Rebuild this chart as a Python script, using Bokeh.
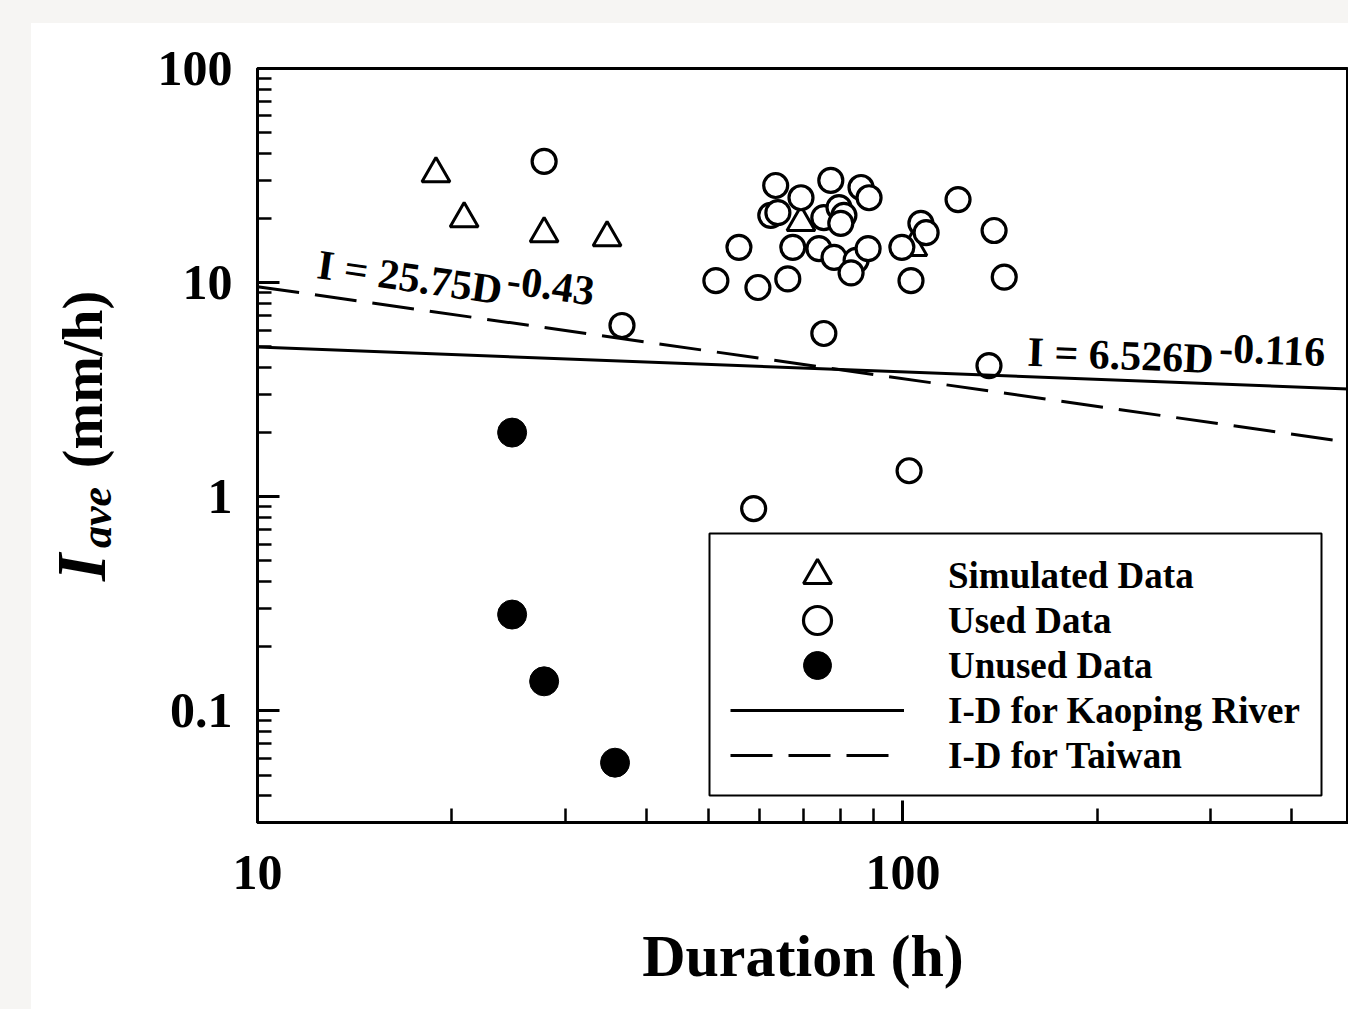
import math
from bokeh.plotting import figure
from bokeh.layouts import row
from bokeh.models import (Range1d, FixedTicker, Legend, LegendItem, BoxAnnotation,
                          GlobalInlineStyleSheet)
from bokeh.core.properties import value
from bokeh.embed import file_html
from bokeh.resources import INLINE

# ---------------- data ----------------
sim_duration = [18.9, 20.9, 27.8, 34.8, 69.5, 103.6]
sim_intensity = [32.3, 19.9, 16.9, 16.2, 19.1, 14.6]

used_duration = [27.8, 36.7, 51.3, 55.7, 59.6, 58.7, 63.5, 62.4, 64.0, 66.3,
                 69.5, 67.5, 77.3, 75.4, 74.1, 75.4, 79.6, 81.0, 80.1, 78.2,
                 84.6, 88.3, 83.1, 86.1, 88.6, 99.6, 106.6, 108.6, 121.7, 138.4,
                 102.9, 143.5, 135.9, 102.2]
used_intensity = [36.8, 6.30, 10.2, 14.6, 9.48, 0.879, 28.4, 20.6, 21.2, 10.4,
                  24.9, 14.6, 30.0, 20.1, 14.4, 5.78, 22.4, 20.6, 18.9, 13.1,
                  12.7, 14.4, 11.1, 27.8, 24.9, 14.6, 18.9, 17.1, 24.4, 17.5,
                  10.2, 10.6, 4.09, 1.32]

unused_duration = [24.8, 24.8, 27.8, 35.8]
unused_intensity = [1.99, 0.281, 0.137, 0.0571]

# fitted I-D relations  I = a * D^b
kaoping_coef, kaoping_exp = 6.526, -0.116
taiwan_coef, taiwan_exp = 25.75, -0.43
fit_duration = [10, 490]

x_major = [10, 100]
x_minor = [20, 30, 40, 50, 60, 70, 80, 90, 200, 300, 400]
x_tick_labels = ["10", "100"]
y_major = [0.1, 1, 10, 100]
y_minor = [0.04, 0.05, 0.06, 0.07, 0.08, 0.09,
           0.2, 0.3, 0.4, 0.5, 0.6, 0.7, 0.8, 0.9,
           2, 3, 4, 5, 6, 7, 8, 9,
           20, 30, 40, 50, 60, 70, 80, 90]
y_tick_labels = ["0.1", "1", "10", "100"]

legend_labels = ["Simulated Data", "Used Data", "Unused Data",
                 "I-D for Kaoping River", "I-D for Taiwan"]

# ---------------- layout constants ----------------
X0, X1 = 10, 490
Y0, Y1 = 0.03, 100
FW, FH = 1091, 754
TOP, BOTTOM = 45, 187
YLAB_W = 120
FONT = "Liberation Serif"

# ---------------- main figure ----------------
p = figure(x_axis_type="log", y_axis_type="log",
           x_range=Range1d(X0, X1), y_range=Range1d(Y0, Y1),
           frame_width=FW, frame_height=FH,
           min_border_left=106, min_border_right=0,
           min_border_top=TOP, min_border_bottom=BOTTOM,
           output_backend="svg", toolbar_location=None,
           background_fill_color="white", border_fill_color="white")

p.grid.visible = False
p.outline_line_color = "black"
p.outline_line_width = 3
p.outline_line_alpha = 1

for ax in (p.xaxis[0], p.yaxis[0]):
    ax.axis_line_width = 3
    ax.axis_line_color = "black"
    ax.major_tick_in = 22
    ax.major_tick_out = 0
    ax.minor_tick_in = 14
    ax.minor_tick_out = 0
    ax.major_tick_line_width = 3
    ax.minor_tick_line_width = 2.5
    ax.major_tick_line_color = "black"
    ax.minor_tick_line_color = "black"
    ax.major_label_text_font = FONT
    ax.major_label_text_font_style = "bold"
    ax.major_label_text_font_size = "50px"
    ax.major_label_text_color = "black"

xa = p.xaxis[0]
xa.ticker = FixedTicker(ticks=x_major, minor_ticks=x_minor)
xa.major_label_overrides = dict(zip(x_major, x_tick_labels))
xa.major_label_standoff = 33
xa.axis_label = "Duration (h)"
xa.axis_label_text_font = FONT
xa.axis_label_text_font_style = "bold"
xa.axis_label_text_font_size = "60px"
xa.axis_label_text_color = "black"
xa.axis_label_standoff = 31

ya = p.yaxis[0]
ya.ticker = FixedTicker(ticks=y_major, minor_ticks=y_minor)
ya.major_label_overrides = dict(zip(y_major, y_tick_labels))
ya.major_label_standoff = 25

# ---------------- data marks ----------------
r_sim = p.scatter(sim_duration, sim_intensity, marker="triangle", size=28,
                  fill_color="white", line_color="black", line_width=3)
r_used = p.scatter(used_duration, used_intensity, marker="circle", size=24,
                   fill_color="white", line_color="black", line_width=3.2)
r_unused = p.scatter(unused_duration, unused_intensity, marker="circle", size=29,
                     fill_color="black", line_color="black", line_width=1)

kaoping_I = [kaoping_coef * d ** kaoping_exp for d in fit_duration]
taiwan_I = [taiwan_coef * d ** taiwan_exp for d in fit_duration]
r_kao = p.line(fit_duration, kaoping_I, line_color="black", line_width=3)
r_tw = p.line(fit_duration, taiwan_I, line_color="black", line_width=3,
              line_dash="42 16")

# ---------------- equation labels (placed along each fitted line) ----------------
px_per_dec_x = FW / math.log10(X1 / X0)
px_per_dec_y = FH / math.log10(Y1 / Y0)


def eq_labels(coef, exp, d_main, raise_main, d_sup, raise_sup):
    ang = math.atan(exp * px_per_dec_y / px_per_dec_x)
    common = dict(angle=ang, text_font=value(FONT), text_font_style="bold",
                  text_color="black", text_align="left", text_baseline="middle",
                  text_font_size="42px")
    p.text(x=[d_main], y=[coef * d_main ** exp * 10 ** (raise_main / px_per_dec_y)],
           text=[f"I = {coef}D"], **common)
    p.text(x=[d_sup], y=[coef * d_sup ** exp * 10 ** (raise_sup / px_per_dec_y)],
           text=[f"{exp}"], **common)


eq_labels(taiwan_coef, taiwan_exp, 12.4, 31, 24.4, 43)
eq_labels(kaoping_coef, kaoping_exp, 156, 25, 309, 36)

# ---------------- legend (framed box, one row per entry) ----------------
p.add_layout(BoxAnnotation(left=452, right=1064, bottom=27, top=289,
                           left_units="screen", right_units="screen",
                           bottom_units="screen", top_units="screen",
                           fill_color="white", fill_alpha=1,
                           line_color="black", line_width=2, line_alpha=1))
row_pitch = 45
first_row_bottom = 212
for i, (lab, r) in enumerate(zip(legend_labels, [r_sim, r_used, r_unused, r_kao, r_tw])):
    lg = Legend(items=[LegendItem(label=lab, renderers=[r])],
                location=(473, first_row_bottom - i * row_pitch),
                orientation="vertical", border_line_alpha=0,
                background_fill_alpha=0, padding=0, spacing=0, margin=0,
                glyph_height=70, glyph_width=174, label_height=70,
                label_standoff=44,
                label_text_font=FONT, label_text_font_style="bold",
                label_text_font_size="37px", label_text_color="black")
    p.add_layout(lg)

# ---------------- y-axis title (italic I with subscript "ave") ----------------
# a narrow companion figure whose frame lines up with the main frame
ylab = figure(frame_width=YLAB_W, frame_height=FH,
              x_range=Range1d(0, YLAB_W), y_range=Range1d(0, FH),
              min_border_left=0, min_border_right=0,
              min_border_top=TOP, min_border_bottom=BOTTOM,
              x_axis_location=None, y_axis_location=None,
              output_backend="svg", toolbar_location=None,
              background_fill_color="white", border_fill_color="white",
              outline_line_color=None)
ylab.grid.visible = False
title_common = dict(angle=math.pi / 2, text_font=value(FONT), text_color="black",
                    text_align="center", text_baseline="middle")
ylab.text(x=[50], y=[255], text=["I"], text_font_style="bold italic",
          text_font_size="70px", **title_common)
ylab.text(x=[65], y=[305], text=["ave"], text_font_style="bold italic",
          text_font_size="44px", **title_common)
ylab.text(x=[51], y=[443], text=["(mm/h)"], text_font_style="bold",
          text_font_size="56px", **title_common)

layout = row(ylab, p, spacing=0,
             styles={"margin-left": "31px", "margin-top": "23px",
                     "background-color": "white"},
             stylesheets=[GlobalInlineStyleSheet(
                 css="body { background: #f6f5f3; overflow: hidden; }")])

open("out.html", "w").write(file_html(layout, INLINE))
